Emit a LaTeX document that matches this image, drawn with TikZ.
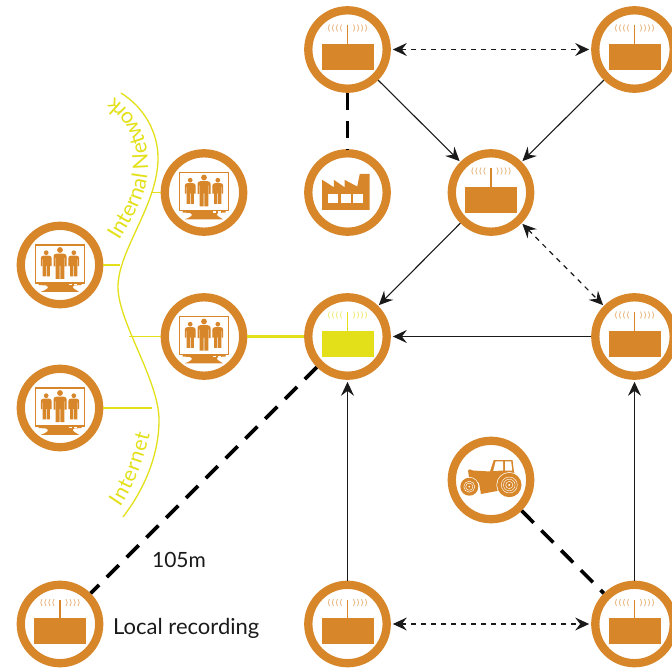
\documentclass[tikz,border=0pt]{standalone}
\usepackage{fontspec}
\setmainfont{Lato}
\usetikzlibrary{arrows.meta,decorations.text}
\definecolor{ochre}{HTML}{D7862A}
\definecolor{lime}{HTML}{E3E01A}
\definecolor{inkc}{HTML}{1A1A1A}
\newcommand{\radiobody}[1]{%
  \fill[#1] (-25.7,-5.7) rectangle (26,20.3);
  \draw[#1,line width=1.4] (0,-24) -- (0,-5.7);
  \foreach \d in {6,10,14,18}{
    \draw[#1!55,line width=.9] (-\d,-25) .. controls (-\d-1.6,-22.5) and (-\d-1.6,-20) .. (-\d,-18);
    \draw[#1!55,line width=.9] (\d,-25) .. controls (\d+1.6,-22.5) and (\d+1.6,-20) .. (\d,-18);
  }%
}
\newcommand{\personshape}[3]{% x, head y, scale
  \begin{scope}[shift={(#1,#2)},scale=#3]
  \fill[ochre] (0,0) circle (2.9);
  \fill[ochre] (-3,3.6) -- (3,3.6) .. controls (5,3.6) and (6.5,4.6) .. (6.5,6.2) -- (6.5,16.5) -- (4.9,16.5) -- (4.9,8) -- (4.4,8) -- (4.4,29) -- (.4,29) -- (.4,16) -- (-.4,16) -- (-.4,29) -- (-4.4,29) -- (-4.4,8) -- (-4.9,8) -- (-4.9,16.5) -- (-6.5,16.5) -- (-6.5,6.2) .. controls (-6.5,4.6) and (-5,3.6) .. (-3,3.6) -- cycle;
  \end{scope}%
}
\tikzset{
  ring/.style={circle,draw=ochre,line width=8.3,fill=white,minimum size=78.4,inner sep=0},
  link/.style={draw=inkc,line width=1.1,-{Stealth[length=14,width=13,inset=5]}},
  duplex/.style={draw=inkc,line width=1.2,dash pattern=on 5 off 5,{Stealth[length=14,width=13,inset=5]}-{Stealth[length=14,width=13,inset=5]}},
  heavy/.style={draw=black,line width=3.6,dash pattern=on 17 off 11},
  wire/.style={draw=lime,line width=1.3},
  caption/.style={text=inkc,font=\fontsize{21}{24}\selectfont,inner sep=0},
  pics/radio/.style={code={\radiobody{#1}}},
  pics/radio/.default=ochre,
  pics/staff/.style={code={
    \draw[ochre,line width=1.1] (-24.3,-20) rectangle (24.3,18);
    \fill[ochre] (-21.5,18.5) -- (21.5,18.5) -- (21.5,20) -- (14,20.5) .. controls (10,22) and (16,25) .. (19,26.8) -- (-19,26.8) .. controls (-14,25) and (-9,22) .. (-14,20.5) -- (-21.5,20) -- cycle;
    \fill[white] (9,19) rectangle (12,20.4);
    \fill[white] (14,19) rectangle (17,20.4);
    \personshape{0}{-15}{1}
    \personshape{-13.8}{-12.3}{.82}
    \personshape{13.8}{-12.3}{.82}
  }},
  pics/plant/.style={code={
    \fill[ochre] (-25.3,17.3) -- (-25.3,-12.7) -- (-13.7,-5.3) -- (-13.7,-12.7) -- (-3,-5.3) -- (-3,-12.7) -- (9.7,-6) -- (12.3,-18.7) -- (22,-18.7) -- (22,17.3) -- cycle;
    \fill[white] (-19.3,1.3) rectangle (-9.3,10.3);
    \fill[white] (-6.7,1.3) rectangle (3.3,10.3);
    \fill[white] (5.7,1.3) rectangle (15.7,10.3);
  }},
  pics/tractor/.style={code={
    \fill[ochre] (-23,-9.5) .. controls (-23,-11) and (-20,-11) .. (-18,-9.5) -- (-1,-8.5) -- (2.8,-20) -- (21.5,-20) -- (23,-8) -- (24,-6) -- (24,4) -- (6,11) -- (-10,14) -- (-12,3) -- (-22,-3) -- cycle;
    \fill[white] (4.6,-18.6) -- (12,-18.6) -- (12,-9.5) -- (2.2,-9) -- cycle;
    \fill[white] (14,-18.6) -- (20.2,-18.6) -- (21.2,-9.5) -- (14,-9.5) -- cycle;
    \fill[white] (-21.7,6.7) circle (9.7);
    \fill[white] (18.3,5) circle (12.9);
    \fill[ochre] (-21.7,6.7) circle (9);
    \fill[ochre] (18.3,5) circle (12.2);
    \draw[white,line width=.45] (-21.7,6.7) circle (5.5) (-21.7,6.7) circle (3.6);
    \draw[white,line width=.45] (18.3,5) circle (8) (18.3,5) circle (5.8) (18.3,5) circle (3.6);
    \fill[white] (-21.7,6.7) circle (.9) (18.3,5) circle (1.1);
  }}
}
\begin{document}
\begin{tikzpicture}[x=1pt,y=-1pt]
\useasboundingbox (0,0) rectangle (672,668);
% yellow bracket
\draw[wire] (121,93) .. controls (145,108) and (158,133) .. (158,158) .. controls (158,205) and (118,250) .. (118,287) .. controls (118,322) and (159,380) .. (159,420) .. controls (159,460) and (140,495) .. (123,517);
% nodes
\node[ring] (tl) at (347.5,49.5) {};
\node[ring] (tr) at (634.5,49.5) {};
\node[ring] (s1) at (204,192.5) {};
\node[ring] (fa) at (347.5,192.5) {};
\node[ring] (cc) at (491,192.5) {};
\node[ring] (s2) at (60,265) {};
\node[ring] (s3) at (204,336.5) {};
\node[ring] (hub) at (347.5,336.5) {};
\node[ring] (mr) at (634.5,336.5) {};
\node[ring] (s4) at (60,408) {};
\node[ring] (tc) at (491,480) {};
\node[ring] (ll) at (60,624) {};
\node[ring] (bm) at (347.5,624) {};
\node[ring] (br) at (634.5,624) {};
% icons
\foreach \n in {tl,tr,cc,mr,ll,bm,br}{\pic at (\n) {radio};}
\pic at (hub) {radio=lime};
\foreach \n in {s1,s2,s3,s4}{\pic at (\n) {staff};}
\pic at (fa) {plant};
\pic at (tc) {tractor};
% yellow branches
\coordinate (j1) at (152,192.5);
\coordinate (j2) at (120,265);
\coordinate (j3) at (129,336.5);
\coordinate (j4) at (152,408);
\draw[wire] (s1.west) -- (j1);
\draw[wire] (s2.east) -- (j2);
\draw[wire] (s3.west) -- (j3);
\draw[wire] (s4.east) -- (j4);
\draw[draw=lime,line width=3.4] (s3.east) -- (hub.west);
% connectors
\draw[link,shorten >=1] (tl.-45) -- (cc.135);
\draw[link,shorten >=1] (tr.225) -- (cc.45);
\draw[link,shorten >=1] (cc.225) -- (hub.45);
\draw[link,shorten >=2] (mr.west) -- (hub.east);
\draw[link,shorten >=2] (bm.north) -- (hub.south);
\draw[link,shorten >=2] (br.north) -- (mr.south);
\draw[duplex,shorten >=2,shorten <=2] (tl.east) -- (tr.west);
\draw[duplex,shorten >=2,shorten <=2] (bm.east) -- (br.west);
\draw[duplex,shorten >=1,shorten <=1] (cc.-45) -- (mr.135);
\draw[heavy] (tl.south) -- (fa.north);
\draw[heavy] (hub.225) -- (ll.45);
\draw[heavy] (tc.-45) -- (br.135);
% labels
\node[caption] (dist) at (179,560) {105m};
\node[caption,anchor=west,font=\fontsize{22}{24}\selectfont] (rec) at (113,628) {Local recording};
% curved labels
\path[decorate,decoration={text along path,text align={fit to path},text={|\fontsize{21.5}{25}\selectfont\color{lime}|Internal Network}}]
  (119,241) .. controls (135,215) and (150,190) .. (148,160) .. controls (147,135) and (135,115) .. (118,100);
\path[decorate,decoration={text along path,text align={fit to path},text={|\fontsize{21}{25}\selectfont\color{lime}|Internet}}]
  (120,507) .. controls (132,490) and (142,466) .. (150,434);
\end{tikzpicture}
\end{document}
